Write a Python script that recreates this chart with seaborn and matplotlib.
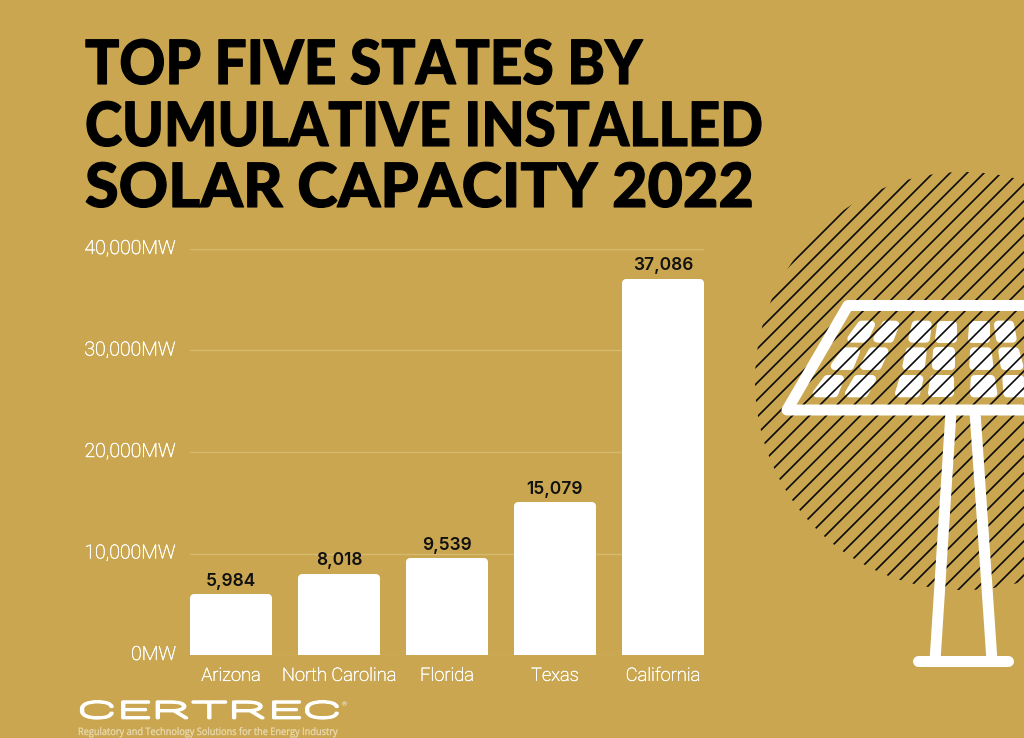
import numpy as np
import pandas as pd
import matplotlib
matplotlib.use("Agg")
import matplotlib.pyplot as plt
import matplotlib.patheffects as pe
from matplotlib.patches import Circle, Polygon
from matplotlib.transforms import Affine2D, ScaledTranslation
import seaborn as sns

states = ["Arizona", "North Carolina", "Florida", "Texas", "California"]
capacity = [5984, 8018, 9539, 15079, 37086]
value_labels = ["5,984", "8,018", "9,539", "15,079", "37,086"]
y_ticks = [0, 10000, 20000, 30000, 40000]
y_tick_labels = ["0MW", "10,000MW", "20,000MW", "30,000MW", "40,000MW"]
title_lines = ["TOP FIVE STATES BY", "CUMULATIVE INSTALLED", "SOLAR CAPACITY 2022"]

BG = "#c9a64f"
W, H = 1024, 738
px = 0.72


# stretches a text sideways and can thicken it, for the logo and the title
class Stretch(pe.AbstractPathEffect):
    def __init__(self, sx, x0, stroke=0, color="white"):
        super().__init__()
        self.sx = sx
        self.x0 = x0
        self.stroke = stroke
        self.color = color

    def draw_path(self, renderer, gc, tpath, affine, rgb_face=None):
        stretch = Affine2D().translate(-self.x0, 0).scale(self.sx, 1).translate(self.x0, 0)
        gc0 = renderer.new_gc()
        gc0.copy_properties(gc)
        gc0.set_linewidth(self.stroke)
        gc0.set_foreground(self.color)
        gc0.set_joinstyle("round")
        renderer.draw_path(gc0, tpath, affine + stretch, rgb_face)
        gc0.restore()


sns.set_theme(style="white")
plt.rcParams["font.family"] = ["Roboto", "DejaVu Sans"]

fig = plt.figure(figsize=(W / 100, H / 100), dpi=100, facecolor=BG)

# overlay in pixel coordinates for the decoration
deco = fig.add_axes([0, 0, 1, 1], zorder=0)
deco.set_xlim(0, W)
deco.set_ylim(H, 0)
deco.axis("off")

# hatched circle
circle = Circle((964, 381), 209, transform=deco.transData)
for c in np.arange(1055, 1700, 17):
    line, = deco.plot([c - 600, c - 100], [600, 100], color="#0a0a0a", lw=1.2, solid_capstyle="butt")
    line.set_clip_path(circle)

# solar panel frame
deco.plot([1060, 848, 787, 1060], [305.5, 305.5, 410, 410], color="white", lw=11 * px,
          solid_joinstyle="round", solid_capstyle="butt")


# cells, outer shape in zoom crop coordinates: (top left, top right, bottom right, bottom left)
def cell_rows(rows, inset=12):
    for y0, y1, cells in rows:
        for tl, tr, br, bl in cells:
            pts = [(tl + inset, y0 + inset), (tr - inset, y0 + inset), (br - inset, y1 - inset), (bl + inset, y1 - inset)]
            pts = [(740 + x / 3, 160 + y / 3) for x, y in pts]
            deco.add_patch(Polygon(pts, closed=True, facecolor="white", edgecolor="white",
                                   lw=8 * px, joinstyle="round"))


cell_rows([
    (482, 548, [(352, 405, 385, 322), (425, 478, 462, 400), (515, 575, 570, 505),
                (590, 650, 650, 585), (688, 750, 750, 685), (762, 822, 830, 768)]),
    (562, 630, [(305, 360, 342, 272), (385, 445, 425, 360), (497, 560, 555, 487),
                (580, 645, 645, 575), (690, 755, 760, 688), (775, 838, 850, 782)]),
    (645, 712, [(250, 312, 295, 218), (340, 408, 385, 315), (478, 550, 540, 465),
                (570, 643, 643, 563), (692, 765, 772, 690), (787, 852, 880, 790)]),
])

# stand
deco.plot([951, 935], [412, 661], color="white", lw=11 * px, solid_capstyle="butt")
deco.plot([975, 992], [412, 661], color="white", lw=11 * px, solid_capstyle="butt")
deco.plot([918, 1008], [661, 661], color="white", lw=11 * px, solid_capstyle="round")

# title
for text, y, sx in zip(title_lines, [84, 146, 207], [0.93, 0.92, 1.0]):
    t = fig.text(85 / W, 1 - y / H, text, color="black", fontsize=44, family="Lato", weight=900, va="baseline")
    t.set_path_effects([Stretch(sx, 85, stroke=0.8, color="black")])

# bar chart
ax = fig.add_axes([190 / W, 1 - 655 / H, 514 / W, 406 / H], zorder=1)
ax.patch.set_alpha(0)
df = pd.DataFrame({"state": states, "capacity": capacity})
sns.barplot(data=df, x="state", y="capacity", color="white", saturation=1, width=0.685, ax=ax)
ax.set_xlim(-0.38, 4.38)
ax.set_ylim(0, 40000)

# rounded top corners, the edge keeps the outer size of the bars
for bar in ax.patches:
    bar.set_edgecolor("white")
    bar.set_linewidth(8 * px)
    bar.set_joinstyle("round")
    bar.set_height(bar.get_height() - 400)
    bar.set_zorder(3)

for i, lab in enumerate(value_labels):
    ax.annotate(lab, (i, capacity[i]), xytext=(0, 6), textcoords="offset points", ha="center", va="baseline",
                fontsize=12.5, color="#111111", family="Inter", weight="semibold")

ax.set_xlabel("")
ax.set_ylabel("")
ax.set_yticks(y_ticks)
ax.set_yticklabels(y_tick_labels, fontsize=14, color="white", weight="light")
ax.tick_params(axis="y", length=0, pad=10)
ax.tick_params(axis="x", length=0, pad=8.5)
ax.set_xticks(range(len(states)))
ax.set_xticklabels(states, fontsize=13.2, color="white", weight="light")
shift_up = ScaledTranslation(0, 2 / 100, fig.dpi_scale_trans)
thicker = [pe.withStroke(linewidth=0.35, foreground="white")]
for lab in ax.get_yticklabels():
    lab.set_transform(lab.get_transform() + shift_up)
    lab.set_path_effects(thicker)
for lab in ax.get_xticklabels():
    lab.set_path_effects(thicker)
ax.yaxis.grid(True, color="#d4b96f", lw=1)
ax.set_axisbelow(True)
sns.despine(ax=ax, left=True, bottom=True)

# logo
logo = fig.text(77 / W, 1 - 718 / H, "CERTREC", color="white", fontsize=16.5, family="Roboto", weight=100,
                va="baseline")
logo.set_path_effects([Stretch(2.66, 77, stroke=2.0)])
fig.text(342 / W, 1 - 706 / H, "®", color="white", fontsize=4.5, va="baseline")
tag = fig.text(78 / W, 1 - 735 / H, "Regulatory and Technology Solutions for the Energy Industry", color="#ecdcb4",
               fontsize=7.4, family="Open Sans", va="baseline")
tag.set_path_effects([Stretch(0.897, 78, stroke=0.2, color="#ecdcb4")])

fig.savefig("out.png", dpi=100, facecolor=BG)
